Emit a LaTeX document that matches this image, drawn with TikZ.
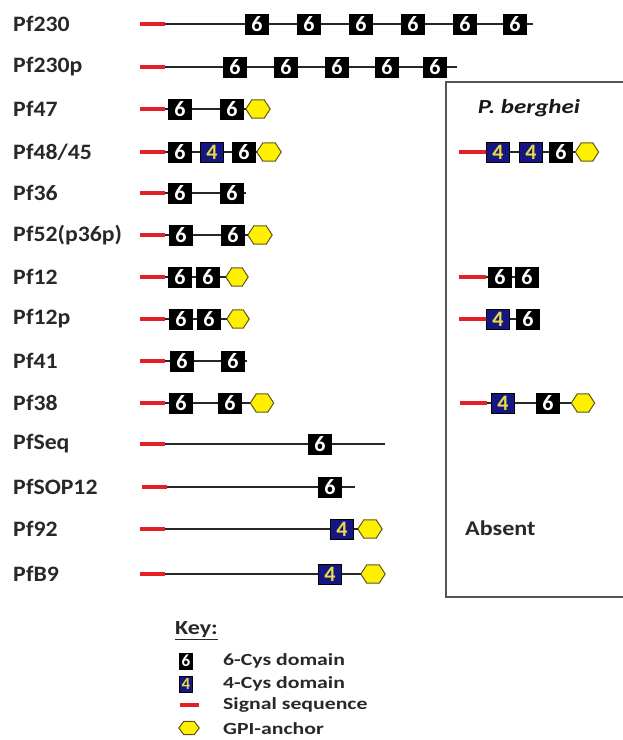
\documentclass[tikz,border=0pt]{standalone}
\usepackage{fontspec}
\setmainfont{Carlito}
\usetikzlibrary{shapes.geometric}
\definecolor{sigred}{RGB}{228,32,36}
\definecolor{navy}{RGB}{22,22,130}
\definecolor{dyel}{RGB}{232,220,70}
\definecolor{gpiy}{RGB}{255,240,0}
\definecolor{gpib}{RGB}{95,85,25}
\definecolor{lblc}{RGB}{40,40,40}
\definecolor{framec}{RGB}{85,85,85}
\newcommand\hs[2]{\scalebox{#1}[1]{#2}}
% \gpinode[chamfer]{name}{width}{height}{position}
\newcommand\gpinode[5][6pt]{%
  \node[gpibox,minimum width=#3,minimum height=#4] (#2) at (#5) {};
  \draw[gpistyle] (#2.west) -- ([xshift=#1]#2.north west) -- ([xshift=-#1]#2.north east)
    -- (#2.east) -- ([xshift=-#1]#2.south east) -- ([xshift=#1]#2.south west) -- cycle;}
\begin{document}
\begin{tikzpicture}[x=1pt,y=-1pt,
 six/.style={rectangle, fill=black, draw=black, minimum width=23pt, minimum height=20pt,
   inner sep=0pt, text=white, font=\fontsize{22}{22}\selectfont\bfseries},
 four/.style={six, fill=navy, text=dyel},
 gpibox/.style={rectangle, draw=none, inner sep=0pt},
 gpistyle/.style={fill=gpiy, draw=gpib, line width=1pt},
 sig/.style={rectangle, fill=sigred, minimum width=25pt, minimum height=4.5pt, inner sep=0pt},
 bb/.style={line width=1.5pt, black!85},
 lab/.style={anchor=west, text=lblc, font=\fontsize{22}{22}\selectfont\bfseries, inner sep=0pt},
 keytxt/.style={anchor=west, text=lblc, font=\fontsize{17}{17}\selectfont\bfseries, inner sep=0pt}
]
\useasboundingbox (0,0) rectangle (623,740);

% labels
\node[lab] (l1) at (13,24) {\hs{1.08}{Pf230}};
\node[lab] (l2) at (13,67) {\hs{1.08}{Pf230p}};
\node[lab] (l3) at (13,109) {\hs{1.08}{Pf47}};
\node[lab] (l4) at (13,152) {\hs{1.08}{Pf48/45}};
\node[lab] (l5) at (13,193) {\hs{1.08}{Pf36}};
\node[lab] (l6) at (13,235) {\hs{1.08}{Pf52(p36p)}};
\node[lab] (l7) at (13,277) {\hs{1.08}{Pf12}};
\node[lab] (l8) at (13,319) {\hs{1.08}{Pf12p}};
\node[lab] (l9) at (13,361) {\hs{1.08}{Pf41}};
\node[lab] (l10) at (13,403) {\hs{1.08}{Pf38}};
\node[lab] (l11) at (13,444) {\hs{1.08}{PfSeq}};
\node[lab] (l12) at (13,487) {\hs{1.08}{PfSOP12}};
\node[lab] (l13) at (13,529) {\hs{1.08}{Pf92}};
\node[lab] (l14) at (13,574) {\hs{1.08}{PfB9}};

% Pf230
\node[sig] (a0) at (152.5,24) {};
\node[six] (a1) at (257,24) {6};
\node[six] (a2) at (309,24) {6};
\node[six] (a3) at (361,24) {6};
\node[six] (a4) at (413,24) {6};
\node[six] (a5) at (465,24) {6};
\node[six] (a6) at (515,24) {6};
\coordinate (ae) at (533,24);
\draw[bb] (a0) -- (a1) -- (a2) -- (a3) -- (a4) -- (a5) -- (a6) -- (ae);

% Pf230p
\node[sig] (b0) at (152.5,67) {};
\node[six] (b1) at (235,67) {6};
\node[six] (b2) at (286,67) {6};
\node[six] (b3) at (337,67) {6};
\node[six] (b4) at (387,67) {6};
\node[six] (b5) at (435,67) {6};
\coordinate (be) at (457,67);
\draw[bb] (b0) -- (b1) -- (b2) -- (b3) -- (b4) -- (b5) -- (be);

% Pf47
\node[sig] (c0) at (152.5,109) {};
\node[six] (c1) at (180,109) {6};
\node[six] (c2) at (232,109) {6};
\gpinode{c3}{24pt}{18pt}{258,109}
\draw[bb] (c0) -- (c1) -- (c2) -- (c3);

% Pf48/45
\node[sig] (d0) at (152.5,152) {};
\node[six] (d1) at (180,152) {6};
\node[four] (d2) at (212,152) {4};
\node[six] (d3) at (244,152) {6};
\gpinode{d4}{24pt}{18pt}{269,152}
\draw[bb] (d0) -- (d1) -- (d2) -- (d3) -- (d4);

% Pf36
\node[sig] (e0) at (152.5,193) {};
\node[six] (e1) at (180,193) {6};
\node[six] (e2) at (232,193) {6};
\coordinate (ee) at (246,193);
\draw[bb] (e0) -- (e1) -- (e2) -- (ee);

% Pf52
\node[sig] (f0) at (152.5,235) {};
\node[six] (f1) at (181,235) {6};
\node[six] (f2) at (233,235) {6};
\gpinode{f3}{24pt}{18pt}{260,235}
\draw[bb] (f0) -- (f1) -- (f2) -- (f3);

% Pf12
\node[sig] (g0) at (152.5,277) {};
\node[six] (g1) at (180,277) {6};
\node[six] (g2) at (208,277) {6};
\gpinode{g3}{22pt}{18pt}{237,277}
\draw[bb] (g0) -- (g1) -- (g2) -- (g3);

% Pf12p
\node[sig] (h0) at (152.5,319) {};
\node[six] (h1) at (181,319) {6};
\node[six] (h2) at (209,319) {6};
\gpinode{h3}{22pt}{18pt}{238,319}
\draw[bb] (h0) -- (h1) -- (h2) -- (h3);

% Pf41
\node[sig] (i0) at (152.5,361) {};
\node[six] (i1) at (182,361) {6};
\node[six] (i2) at (233,361) {6};
\coordinate (ie) at (247,361);
\draw[bb] (i0) -- (i1) -- (i2) -- (ie);

% Pf38
\node[sig] (j0) at (152.5,403) {};
\node[six] (j1) at (181,403) {6};
\node[six] (j2) at (230,403) {6};
\gpinode{j3}{23pt}{18pt}{262,403}
\draw[bb] (j0) -- (j1) -- (j2) -- (j3);

% PfSeq
\node[sig] (k0) at (152.5,444) {};
\node[six] (k1) at (320,444) {6};
\coordinate (ke) at (385,444);
\draw[bb] (k0) -- (k1) -- (ke);

% PfSOP12
\node[sig] (m0) at (154.5,487) {};
\node[six] (m1) at (330,487) {6};
\coordinate (me) at (355,487);
\draw[bb] (m0) -- (m1) -- (me);

% Pf92
\node[sig] (n0) at (152.5,529) {};
\node[four] (n1) at (342,529) {4};
\gpinode{n2}{24pt}{18pt}{370,529}
\draw[bb] (n0) -- (n1) -- (n2);

% PfB9
\node[sig] (o0) at (152.5,574) {};
\node[four] (o1) at (330,574) {4};
\gpinode{o2}{24pt}{18pt}{373,574}
\draw[bb] (o0) -- (o1) -- (o2);

% P. berghei frame
\draw[framec, line width=2pt] (630,82) -- (446,82) -- (446,597) -- (630,597);
\node[text=black!90, font=\fontsize{20}{20}\selectfont\bfseries\itshape, inner sep=0pt] (pbt) at (529,108) {\hs{1.25}{P. berghei}};

% P. berghei Pf48/45
\node[sig, minimum width=27pt] (p0) at (472,152) {};
\node[four] (p1) at (498,152) {4};
\node[four] (p2) at (531,152) {4};
\node[six] (p3) at (561,152) {6};
\gpinode{p4}{23pt}{18pt}{587,152}
\draw[bb] (p0) -- (p1) -- (p2) -- (p3) -- (p4);

% P. berghei Pf12
\node[sig, minimum width=27pt] (q0) at (472,277) {};
\node[six] (q1) at (500,277) {6};
\node[six] (q2) at (527,277) {6};
\draw[bb] (q0) -- (q1) -- (q2);

% P. berghei Pf12p
\node[sig, minimum width=27pt] (r0) at (472,319) {};
\node[four] (r1) at (498,319) {4};
\node[six] (r2) at (528,319) {6};
\draw[bb] (r0) -- (r1) -- (r2);

% P. berghei Pf38
\node[sig, minimum width=27pt] (s0) at (473.5,403) {};
\node[four] (s1) at (503,403) {4};
\node[six] (s2) at (548,403) {6};
\gpinode{s3}{23pt}{18pt}{583,403}
\draw[bb] (s0) -- (s1) -- (s2) -- (s3);

\node[anchor=west, text=lblc, font=\fontsize{21}{21}\selectfont\bfseries, inner sep=0pt] (abs) at (465,528) {\hs{1.15}{Absent}};

% Key
\node[anchor=west, text=lblc, font=\fontsize{20}{20}\selectfont\bfseries, inner sep=0pt] (key) at (175,631) {\hs{1.2}{\underline{Key:}}};
\node[six, minimum width=13pt, minimum height=16pt, font=\fontsize{17}{17}\selectfont\bfseries] (k6) at (186,661) {6};
\node[four, minimum width=13pt, minimum height=16pt, font=\fontsize{17}{17}\selectfont\bfseries] (k4) at (186,684) {4};
\node[sig, minimum width=19pt] (ks) at (189,705) {};
\gpinode[5pt]{kg}{20pt}{13pt}{189,728}
\node[keytxt] (t6) at (223,661) {\hs{1.28}{6-Cys domain}};
\node[keytxt] (t4) at (223,684) {\hs{1.28}{4-Cys domain}};
\node[keytxt] (ts) at (223,705) {\hs{1.28}{Signal sequence}};
\node[keytxt] (tg) at (223,729) {\hs{1.28}{GPI-anchor}};
\end{tikzpicture}
\end{document}
